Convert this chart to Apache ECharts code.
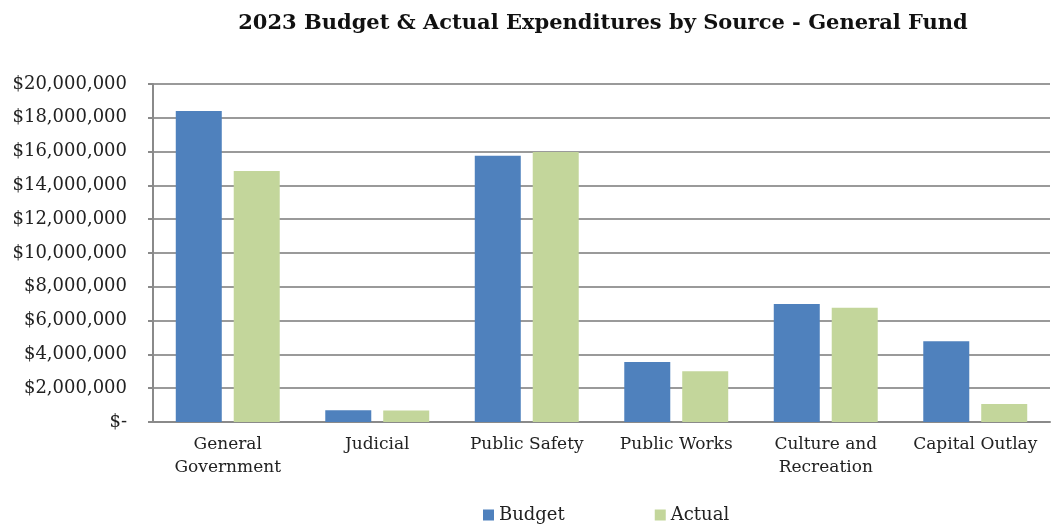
<!DOCTYPE html>
<html>
<head>
<meta charset="utf-8">
<script src="https://cdn.jsdelivr.net/npm/echarts@6/dist/echarts.min.js"></script>
<style>html,body{margin:0;padding:0;background:#fff;}#c{width:1052px;height:525px;}</style>
</head>
<body>
<div id="c"></div>
<script>
const categories = ['General\nGovernment', 'Judicial', 'Public Safety', 'Public Works', 'Culture and\nRecreation', 'Capital Outlay'];
const budget = [18400000, 700000, 15750000, 3550000, 6980000, 4780000];
const actual = [14850000, 680000, 15980000, 3000000, 6760000, 1070000];
const seriesNames = ['Budget', 'Actual'];
const titleText = '2023 Budget & Actual Expenditures by Source - General Fund';

const font = 'DejaVu Serif';
const chart = echarts.init(document.getElementById('c'));
function fmt(v) {
  if (v === 0) return '$-';
  return '$' + v.toLocaleString('en-US');
}
chart.setOption({
  animation: false,
  title: {
    text: titleText,
    left: 598, top: 8, textAlign: 'center',
    textStyle: { fontFamily: font, fontWeight: 'bold', fontSize: 21, color: '#111' }
  },
  legend: {
    top: 501, left: 478,
    itemWidth: 11, itemHeight: 11, itemGap: 90,
    icon: 'rect',
    textStyle: { fontFamily: font, fontSize: 18, color: '#222' },
    data: seriesNames
  },
  grid: { left: 153, right: 2, top: 84, bottom: 103 },
  xAxis: {
    type: 'category', data: categories,
    axisLine: { lineStyle: { color: '#8a8a8a', width: 2 } },
    axisTick: { show: false },
    axisLabel: { interval: 0, fontFamily: font, fontSize: 17, color: '#222', lineHeight: 23, margin: 11 }
  },
  yAxis: {
    type: 'value', min: 0, max: 20000000, interval: 2000000,
    axisLine: { show: true, lineStyle: { color: '#8a8a8a', width: 2 } },
    axisTick: { show: true, length: 5, lineStyle: { color: '#8a8a8a', width: 2 } },
    splitLine: { lineStyle: { color: '#9a9a9a', width: 2 } },
    axisLabel: { fontFamily: font, fontSize: 18, color: '#222', margin: 26, formatter: fmt }
  },
  series: [
    { name: seriesNames[0], type: 'bar', data: budget, barWidth: 46, barGap: '26%', itemStyle: { color: '#4F81BD' } },
    { name: seriesNames[1], type: 'bar', data: actual, barWidth: 46, itemStyle: { color: '#C3D69B' } }
  ]
});
</script>
</body>
</html>
